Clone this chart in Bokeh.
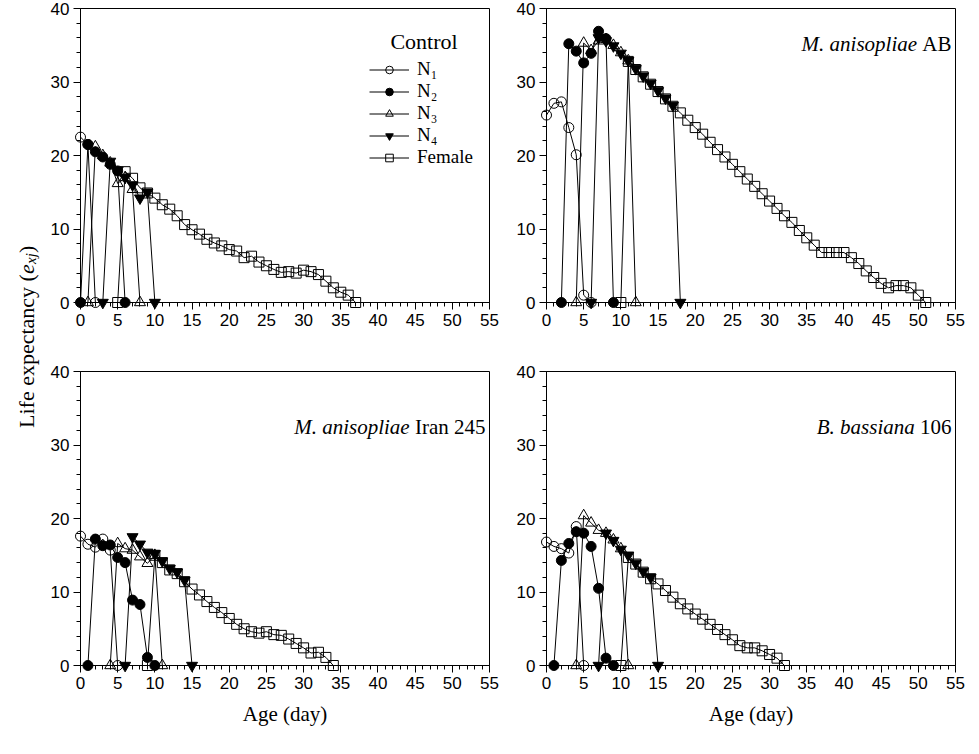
import math
from bokeh.plotting import figure
from bokeh.models import (Range1d, Label, Legend, LegendItem, FixedTicker, LinearAxis,
                          BoxAnnotation)
from bokeh.layouts import row, column
from bokeh.embed import file_html
from bokeh.resources import INLINE

# ---------------- axis ticks ----------------
x_major_ticks = [0, 5, 10, 15, 20, 25, 30, 35, 40, 45, 50, 55]
x_minor_ticks = [0, 1, 2, 3, 4, 5, 6, 7, 8, 9, 10, 11, 12, 13, 14, 15, 16, 17, 18, 19, 20,
                 21, 22, 23, 24, 25, 26, 27, 28, 29, 30, 31, 32, 33, 34, 35, 36, 37, 38, 39,
                 40, 41, 42, 43, 44, 45, 46, 47, 48, 49, 50, 51, 52, 53, 54, 55]
y_major_ticks = [0, 10, 20, 30, 40]
y_minor_ticks = [0, 2, 4, 6, 8, 10, 12, 14, 16, 18, 20, 22, 24, 26, 28, 30, 32, 34, 36, 38, 40]
x_limits = (0, 55)
y_limits = (0, 40)
stage_labels = ["N\u2081", "N\u2082", "N\u2083", "N\u2084", "Female"]

# ---------------- Control ----------------
ctrl_n1_age = [0, 1, 2]
ctrl_n1 = [22.5, 21.5, 0]
ctrl_n2_age = [0, 1, 2, 3, 4, 5, 6]
ctrl_n2 = [0, 21.5, 20.5, 19.8, 18.8, 17.9, 0]
ctrl_n3_age = [1, 2, 3, 4, 5, 6, 7, 8]
ctrl_n3 = [0, 21.2, 20.0, 19.0, 16.2, 17.0, 15.4, 0]
ctrl_n4_age = [3, 4, 5, 6, 7, 8, 9, 10]
ctrl_n4 = [0, 19.2, 18.0, 17.0, 16.0, 14.2, 15.0, 0]
ctrl_f_age = [5, 6, 7, 8, 9, 10, 11, 12, 13, 14, 15, 16, 17, 18, 19, 20, 21, 22, 23, 24, 25,
              26, 27, 28, 29, 30, 31, 32, 33, 34, 35, 36, 37]
ctrl_f = [0, 17.8, 16.9, 15.6, 14.9, 14.2, 13.3, 12.7, 11.8, 10.6, 9.9, 9.3, 8.6, 8.1, 7.7,
          7.2, 7.0, 6.1, 6.3, 5.5, 5.0, 4.5, 4.1, 4.2, 4.0, 4.4, 4.2, 3.8, 2.9, 2.0, 1.4, 1.0, 0]

# ---------------- M. anisopliae AB ----------------
ab_n1_age = [0, 1, 2, 3, 4, 5, 6]
ab_n1 = [25.5, 27.1, 27.3, 23.8, 20.1, 1.0, 0]
ab_n2_age = [2, 3, 4, 5, 6, 7, 8, 9]
ab_n2 = [0, 35.2, 34.2, 32.6, 33.9, 36.9, 35.9, 0]
ab_n3_age = [4, 5, 6, 7, 8, 9, 10, 11, 12]
ab_n3 = [0, 35.3, 34.3, 35.6, 35.8, 35.0, 34.0, 32.9, 0]
ab_n4_age = [6, 7, 8, 9, 10, 11, 12, 13, 14, 15, 16, 17, 18]
ab_n4 = [0, 36.0, 35.6, 34.9, 33.9, 32.9, 31.8, 30.8, 29.8, 28.8, 27.8, 26.8, 0]
ab_f_age = [10, 11, 12, 13, 14, 15, 16, 17, 18, 19, 20, 21, 22, 23, 24, 25, 26, 27, 28, 29,
            30, 31, 32, 33, 34, 35, 36, 37, 38, 39, 40, 41, 42, 43, 44, 45, 46, 47, 48, 49,
            50, 51]
ab_f = [0, 32.8, 31.7, 30.7, 29.7, 28.7, 27.7, 26.7, 25.8, 24.8, 23.8, 22.9, 21.8, 20.8,
        19.8, 18.8, 17.8, 16.8, 15.8, 14.8, 13.8, 12.8, 11.8, 10.9, 9.8, 8.8, 7.8, 6.8, 6.8,
        6.8, 6.8, 6.1, 5.3, 4.3, 3.4, 2.6, 2.0, 2.3, 2.3, 2.0, 1.0, 0]

# ---------------- M. anisopliae Iran 245 ----------------
ir_n1_age = [0, 1, 2, 3, 4, 5]
ir_n1 = [17.6, 16.5, 16.1, 17.2, 15.7, 0]
ir_n2_age = [1, 2, 3, 4, 5, 6, 7, 8, 9, 10]
ir_n2 = [0, 17.2, 16.3, 16.4, 14.7, 14.0, 8.9, 8.3, 1.1, 0]
ir_n3_age = [4, 5, 6, 7, 8, 9, 10, 11]
ir_n3 = [0, 16.6, 15.9, 15.7, 14.8, 13.9, 15.0, 0]
ir_n4_age = [6, 7, 8, 9, 10, 11, 12, 13, 14, 15]
ir_n4 = [0, 17.5, 16.5, 15.4, 15.2, 14.2, 13.2, 12.7, 11.6, 0]
ir_f_age = [9, 10, 11, 12, 13, 14, 15, 16, 17, 18, 19, 20, 21, 22, 23, 24, 25, 26, 27, 28,
            29, 30, 31, 32, 33, 34]
ir_f = [0, 15.0, 14.0, 13.0, 12.5, 11.4, 10.4, 9.6, 8.7, 7.9, 7.2, 6.4, 5.6, 5.0, 4.6, 4.4,
        4.6, 4.2, 4.1, 3.6, 3.0, 2.4, 1.7, 1.8, 1.1, 0]

# ---------------- B. bassiana 106 ----------------
bb_n1_age = [0, 1, 2, 3, 4, 5]
bb_n1 = [16.8, 16.2, 15.9, 15.3, 18.9, 0]
bb_n2_age = [1, 2, 3, 4, 5, 6, 7, 8, 9]
bb_n2 = [0, 14.3, 16.6, 18.2, 18.0, 16.2, 10.5, 1.0, 0]
bb_n3_age = [4, 5, 6, 7, 8, 9, 10, 11]
bb_n3 = [0, 20.4, 19.4, 18.4, 18.0, 17.1, 15.9, 0]
bb_n4_age = [7, 8, 9, 10, 11, 12, 13, 14, 15]
bb_n4 = [0, 18.0, 17.0, 15.8, 15.0, 13.9, 12.8, 12.0, 0]
bb_f_age = [10, 11, 12, 13, 14, 15, 16, 17, 18, 19, 20, 21, 22, 23, 24, 25, 26, 27, 28, 29,
            30, 31, 32]
bb_f = [0, 14.7, 13.8, 12.7, 11.8, 11.1, 10.2, 9.3, 8.4, 7.7, 7.0, 6.3, 5.6, 4.9, 4.2, 3.5,
        2.7, 2.4, 2.4, 2.0, 1.5, 1.0, 0]

# ---------------- styling ----------------
SERIF = "Liberation Serif"
SANS = "Liberation Sans"
MARKERS = [("circle", None, 10), ("circle", "black", 10), ("triangle", None, 11),
           ("inverted_triangle", "black", 11), ("square", None, 10)]

BW, BH = 409, 294                     # axes box size in px
XS = BW / (x_limits[1] - x_limits[0])  # px per day
YS = BH / (y_limits[1] - y_limits[0])  # px per unit


def style_axis(ax):
    ax.axis_line_color = "black"
    ax.major_tick_line_color = "black"
    ax.minor_tick_line_color = "black"
    ax.major_tick_out = 7
    ax.major_tick_in = 0
    ax.minor_tick_out = 4
    ax.minor_tick_in = 0
    ax.major_label_text_font = SANS
    ax.major_label_text_font_size = "17px"
    ax.major_label_text_color = "black"
    ax.major_label_standoff = 4


def make_panel(series, pl, pr, pt, pb, xlabel):
    p = figure(frame_width=pl + BW + pr, frame_height=pt + BH + pb,
               x_range=Range1d(x_limits[0] - pl / XS, x_limits[1] + pr / XS),
               y_range=Range1d(y_limits[0] - pb / YS, y_limits[1] + pt / YS),
               x_axis_location=None, y_axis_location=None,
               output_backend="svg", toolbar_location=None, min_border=0)
    p.grid.visible = False
    p.outline_line_color = None
    xax = LinearAxis(fixed_location=y_limits[0], bounds=x_limits,
                     ticker=FixedTicker(ticks=x_major_ticks, minor_ticks=x_minor_ticks))
    yax = LinearAxis(fixed_location=x_limits[0], bounds=y_limits,
                     ticker=FixedTicker(ticks=y_major_ticks, minor_ticks=y_minor_ticks))
    style_axis(xax)
    style_axis(yax)
    if xlabel:
        xax.axis_label = "Age (day)"
        xax.axis_label_text_font = SERIF
        xax.axis_label_text_font_style = "normal"
        xax.axis_label_text_font_size = "21px"
        xax.axis_label_text_color = "black"
        xax.axis_label_standoff = 10
    p.add_layout(xax, "below")
    p.add_layout(yax, "left")
    p.add_layout(BoxAnnotation(left=x_limits[0], right=x_limits[1], bottom=y_limits[0],
                               top=y_limits[1], fill_alpha=0, line_color="black",
                               line_width=1, line_alpha=1))
    renderers = []
    for (ages, vals), (mk, fill, sz) in zip(series, MARKERS):
        lr = p.line(ages, vals, line_color="black", line_width=1)
        sr = p.scatter(ages, vals, marker=mk, size=sz, line_color="black", line_width=1,
                       fill_color=fill if fill else "white", fill_alpha=1 if fill else 0)
        renderers.append((lr, sr))
    return p, renderers


def add_title(p, italic, normal, normal_w, y, size=21):
    space = 0.25 * size
    p.add_layout(Label(x=x_limits[1], y=y, x_offset=-4 - normal_w - space, text=italic,
                       text_align="right", text_baseline="middle", text_font=SERIF,
                       text_font_style="italic", text_font_size=f"{size}px",
                       text_color="black"))
    p.add_layout(Label(x=x_limits[1], y=y, x_offset=-4 - normal_w, text=normal,
                       text_align="left", text_baseline="middle", text_font=SERIF,
                       text_font_style="normal", text_font_size=f"{size}px",
                       text_color="black"))


# pads (px) around each axes box inside its frame
PL_L, PR_L, PL_R, PR_R = 40, 12, 45, 12
PT_T, PB_T, PT_B, PB_B = 8, 36, 33, 70

tl, tl_r = make_panel([(ctrl_n1_age, ctrl_n1), (ctrl_n2_age, ctrl_n2), (ctrl_n3_age, ctrl_n3),
                       (ctrl_n4_age, ctrl_n4), (ctrl_f_age, ctrl_f)],
                      PL_L, PR_L, PT_T, PB_T, False)
tr, _ = make_panel([(ab_n1_age, ab_n1), (ab_n2_age, ab_n2), (ab_n3_age, ab_n3),
                    (ab_n4_age, ab_n4), (ab_f_age, ab_f)], PL_R, PR_R, PT_T, PB_T, False)
bl, _ = make_panel([(ir_n1_age, ir_n1), (ir_n2_age, ir_n2), (ir_n3_age, ir_n3),
                    (ir_n4_age, ir_n4), (ir_f_age, ir_f)], PL_L, PR_L, PT_B, PB_B, True)
br, _ = make_panel([(bb_n1_age, bb_n1), (bb_n2_age, bb_n2), (bb_n3_age, bb_n3),
                    (bb_n4_age, bb_n4), (bb_f_age, bb_f)], PL_R, PR_R, PT_B, PB_B, True)

# legend (control panel)
items = [LegendItem(label=lab, renderers=[lr, sr]) for lab, (lr, sr) in zip(stage_labels, tl_r)]
leg = Legend(items=items, location=(PL_L + 289, PB_T + 134), glyph_width=40, glyph_height=19,
             label_height=19, spacing=-2, padding=0, margin=0, label_standoff=8,
             label_text_font=SERIF, label_text_font_size="19px", label_text_color="black",
             background_fill_alpha=0, border_line_alpha=0)
tl.add_layout(leg)
tl.add_layout(Label(x=46.2, y=35.5, text="Control", text_align="center", text_baseline="middle",
                    text_font=SERIF, text_font_size="22px", text_color="black"))

add_title(tr, "M. anisopliae", "AB", 29.2, 35.2)
add_title(bl, "M. anisopliae", "Iran 245", 70.6, 32.5)
add_title(br, "B. bassiana", "106", 31.5, 32.5)

# y-axis title in its own narrow figure
H = (PT_T + BH + PB_T) + (PT_B + BH + PB_B)
yl = figure(frame_width=40, frame_height=H, x_range=Range1d(0, 40), y_range=Range1d(0, H),
            output_backend="svg", toolbar_location=None, min_border=0,
            x_axis_location=None, y_axis_location=None)
yl.grid.visible = False
yl.outline_line_color = None
box_mid = H - (PT_T + (BH + PB_T + PT_B + BH) / 2)
y0 = box_mid - 91
ANG = math.pi / 2
yl.add_layout(Label(x=26, y=y0, angle=ANG, text="Life expectancy (", text_align="left",
                    text_baseline="alphabetic", text_font=SERIF, text_font_size="22px",
                    text_color="black"))
yl.add_layout(Label(x=26, y=y0 + 154, angle=ANG, text="e", text_align="left",
                    text_baseline="alphabetic", text_font=SERIF, text_font_style="italic",
                    text_font_size="22px", text_color="black"))
yl.add_layout(Label(x=30, y=y0 + 164, angle=ANG, text="xj", text_align="left",
                    text_baseline="alphabetic", text_font=SERIF, text_font_style="italic",
                    text_font_size="15px", text_color="black"))
yl.add_layout(Label(x=26, y=y0 + 175, angle=ANG, text=")", text_align="left",
                    text_baseline="alphabetic", text_font=SERIF, text_font_size="22px",
                    text_color="black"))

layout = row(yl, column(row(tl, tr), row(bl, br)))

with open("out.html", "w") as f:
    f.write(file_html(layout, INLINE))
